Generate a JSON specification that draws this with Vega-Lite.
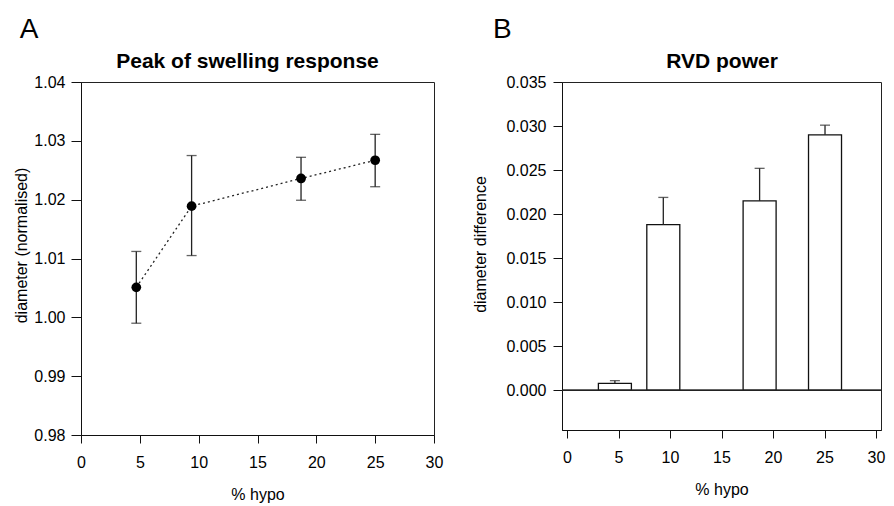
{
  "$schema": "https://vega.github.io/schema/vega-lite/v6.json",
  "autosize": {"type": "pad"},
  "padding": {"left": 13, "top": 15, "right": 5, "bottom": 3},
  "background": "white",
  "bounds": "flush",
  "spacing": 128,
  "datasets": {
    "swell": [
      {"hypo": 4.7, "d": 1.0051, "lo": 0.9990, "hi": 1.0112},
      {"hypo": 9.4, "d": 1.0189, "lo": 1.0105, "hi": 1.0275},
      {"hypo": 18.7, "d": 1.0236, "lo": 1.0199, "hi": 1.0272},
      {"hypo": 25.0, "d": 1.0267, "lo": 1.0222, "hi": 1.0311}
    ],
    "rvd": [
      {"hypo": 4.65, "val": 0.0008, "hi": 0.0011},
      {"hypo": 9.35, "val": 0.0188, "hi": 0.0219},
      {"hypo": 18.7, "val": 0.0215, "hi": 0.0252},
      {"hypo": 25.05, "val": 0.0290, "hi": 0.0301}
    ]
  },
  "config": {
    "font": "Liberation Sans",
    "view": {"stroke": "#222", "strokeWidth": 1},
    "axis": {
      "domainColor": "#111", "tickColor": "#111", "labelColor": "#000", "titleColor": "#000",
      "labelFont": "Liberation Sans", "titleFont": "Liberation Sans",
      "labelFontSize": 16, "titleFontSize": 16, "titleFontWeight": "normal",
      "grid": false, "labelFlush": false
    },
    "title": {"font": "Liberation Sans", "color": "#000"}
  },
  "hconcat": [
    {
      "title": {"text": "A", "anchor": "start", "frame": "bounds", "fontSize": 28, "fontWeight": "normal", "offset": 6, "dx": 6},
      "width": 353,
      "height": 353,
      "data": {"name": "swell"},
      "resolve": {"axis": {"x": "independent"}},
      "layer": [
        {
          "mark": {"type": "line", "color": "#222", "strokeDash": [2, 3], "strokeWidth": 1.3},
          "encoding": {
            "x": {"field": "hypo", "type": "quantitative", "scale": {"domain": [0, 30], "nice": false},
                  "axis": {"values": [0, 5, 10, 15, 20, 25, 30], "title": "% hypo", "tickSize": 8, "labelPadding": 11, "titlePadding": 16, "format": "d"}},
            "y": {"field": "d", "type": "quantitative", "scale": {"domain": [0.98, 1.04], "nice": false, "zero": false},
                  "axis": {"values": [0.98, 0.99, 1.0, 1.01, 1.02, 1.03, 1.04], "format": ".2f", "title": "diameter (normalised)", "tickSize": 10, "labelPadding": 6, "titlePadding": 4, "titleY": 163}}
          }
        },
        {
          "mark": {"type": "rule", "color": "#222", "strokeWidth": 1.3},
          "encoding": {
            "x": {"field": "hypo", "type": "quantitative",
                  "axis": {"orient": "top", "title": "Peak of swelling response", "labels": false, "ticks": false, "domain": false, "titleFontSize": 21, "titleFontWeight": "bold", "titlePadding": 11, "titleX": 166}},
            "y": {"field": "lo", "type": "quantitative",
                  "axis": {"values": [0.98, 0.99, 1.0, 1.01, 1.02, 1.03, 1.04], "format": ".2f", "title": "diameter (normalised)", "tickSize": 10, "labelPadding": 6, "titlePadding": 4, "titleY": 163}},
            "y2": {"field": "hi"}
          }
        },
        {
          "mark": {"type": "tick", "orient": "horizontal", "size": 10, "thickness": 1.3, "color": "#222"},
          "encoding": {
            "x": {"field": "hypo", "type": "quantitative", "axis": null},
            "y": {"field": "lo", "type": "quantitative",
                  "axis": {"values": [0.98, 0.99, 1.0, 1.01, 1.02, 1.03, 1.04], "format": ".2f", "title": "diameter (normalised)", "tickSize": 10, "labelPadding": 6, "titlePadding": 4, "titleY": 163}}
          }
        },
        {
          "mark": {"type": "tick", "orient": "horizontal", "size": 10, "thickness": 1.3, "color": "#222"},
          "encoding": {
            "x": {"field": "hypo", "type": "quantitative", "axis": null},
            "y": {"field": "hi", "type": "quantitative",
                  "axis": {"values": [0.98, 0.99, 1.0, 1.01, 1.02, 1.03, 1.04], "format": ".2f", "title": "diameter (normalised)", "tickSize": 10, "labelPadding": 6, "titlePadding": 4, "titleY": 163}}
          }
        },
        {
          "mark": {"type": "circle", "size": 95, "color": "#000", "opacity": 1},
          "encoding": {
            "x": {"field": "hypo", "type": "quantitative", "axis": null},
            "y": {"field": "d", "type": "quantitative",
                  "axis": {"values": [0.98, 0.99, 1.0, 1.01, 1.02, 1.03, 1.04], "format": ".2f", "title": "diameter (normalised)", "tickSize": 10, "labelPadding": 6, "titlePadding": 4, "titleY": 163}}
          }
        }
      ]
    },
    {
      "title": {"text": "B", "anchor": "start", "frame": "bounds", "fontSize": 28, "fontWeight": "normal", "offset": 6, "dx": 20},
      "width": 319,
      "height": 348,
      "data": {"name": "rvd"},
      "resolve": {"axis": {"x": "independent"}},
      "layer": [
        {
          "mark": {"type": "bar", "orient": "vertical", "width": 33, "fill": "white", "stroke": "#111", "strokeWidth": 1.3},
          "encoding": {
            "x": {"field": "hypo", "type": "quantitative", "scale": {"domain": [0, 30], "nice": false},
                  "axis": {"values": [0, 5, 10, 15, 20, 25, 30], "title": "% hypo", "tickSize": 8, "labelPadding": 11, "titlePadding": 16, "format": "d"}},
            "y": {"field": "val", "type": "quantitative", "scale": {"domain": [-0.0045, 0.035], "nice": false, "zero": false},
                  "axis": {"values": [0, 0.005, 0.01, 0.015, 0.02, 0.025, 0.03, 0.035], "format": ".3f", "title": "diameter difference", "tickSize": 9, "labelPadding": 7, "titlePadding": 17, "titleY": 162}},
            "y2": {"datum": 0}
          }
        },
        {
          "mark": {"type": "rule", "color": "#222", "strokeWidth": 1.2},
          "encoding": {
            "y": {"datum": 0, "type": "quantitative",
                  "axis": {"values": [0, 0.005, 0.01, 0.015, 0.02, 0.025, 0.03, 0.035], "format": ".3f", "title": "diameter difference", "tickSize": 9, "labelPadding": 7, "titlePadding": 17, "titleY": 162}}
          }
        },
        {
          "mark": {"type": "rule", "color": "#222", "strokeWidth": 1.3},
          "encoding": {
            "x": {"field": "hypo", "type": "quantitative",
                  "axis": {"orient": "top", "title": "RVD power", "labels": false, "ticks": false, "domain": false, "titleFontSize": 21, "titleFontWeight": "bold", "titlePadding": 11}},
            "y": {"field": "val", "type": "quantitative",
                  "axis": {"values": [0, 0.005, 0.01, 0.015, 0.02, 0.025, 0.03, 0.035], "format": ".3f", "title": "diameter difference", "tickSize": 9, "labelPadding": 7, "titlePadding": 17, "titleY": 162}},
            "y2": {"field": "hi"}
          }
        },
        {
          "mark": {"type": "tick", "orient": "horizontal", "size": 10, "thickness": 1.3, "color": "#222"},
          "encoding": {
            "x": {"field": "hypo", "type": "quantitative", "axis": null},
            "y": {"field": "hi", "type": "quantitative",
                  "axis": {"values": [0, 0.005, 0.01, 0.015, 0.02, 0.025, 0.03, 0.035], "format": ".3f", "title": "diameter difference", "tickSize": 9, "labelPadding": 7, "titlePadding": 17, "titleY": 162}}
          }
        }
      ]
    }
  ]
}
